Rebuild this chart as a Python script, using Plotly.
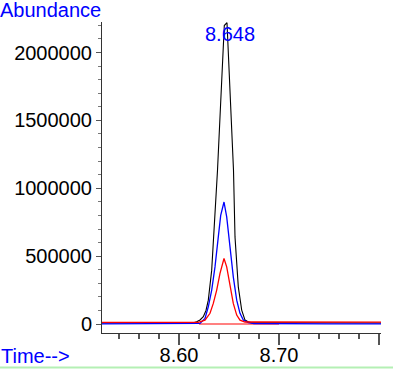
import plotly.graph_objects as go

# ---- data ----
black_t = [8.523, 8.560, 8.600, 8.6145, 8.6177, 8.6210, 8.6243, 8.6270, 8.6293, 8.6327,
           8.6385, 8.6453, 8.6480, 8.6545, 8.6560, 8.6593, 8.6627, 8.6660, 8.6700, 8.6727,
           8.700, 8.750, 8.802]
black_v = [8000, 8000, 8000, 9000, 17000, 30000, 54000, 100000, 176000, 397000,
           1132000, 2199000, 2220000, 1132000, 642000, 274000, 103000, 29000, 14000, 10000,
           9000, 8000, 8000]

blue_t = [8.523, 8.560, 8.600, 8.615, 8.621, 8.626, 8.6293, 8.6327, 8.636, 8.6393,
          8.6417, 8.645, 8.6477, 8.651, 8.6543, 8.6577, 8.661, 8.6643, 8.6693, 8.675,
          8.700, 8.750, 8.802]
blue_v = [1000, 1000, 1500, 2000, 5000, 42000, 127000, 250000, 421000, 642000,
          801000, 899000, 789000, 568000, 348000, 176000, 79000, 29000, 10000, 4000,
          2000, 1500, 1500]

red_t = [8.523, 8.560, 8.600, 8.6193, 8.626, 8.631, 8.6343, 8.6377, 8.641, 8.645,
         8.6477, 8.651, 8.6543, 8.6577, 8.661, 8.666, 8.700, 8.750, 8.802]
red_v = [12000, 12000, 12000, 12500, 29000, 79000, 152000, 250000, 373000, 483000,
         421000, 274000, 152000, 66000, 29000, 15000, 14000, 14000, 14000]

base_t = [8.620, 8.700]
base_v = [1000, 1000]

y_tickvals = [0, 500000, 1000000, 1500000, 2000000]
y_ticktext = ["0", "500000", "1000000", "1500000", "2000000"]
x_tickvals = [8.60, 8.70, 8.80]
x_ticktext = ["8.60", "8.70", ""]

peak_label = "8.648"
peak_time = 8.648

FONT = "Liberation Sans, Arial, Helvetica, sans-serif"

fig = go.Figure()
fig.add_trace(go.Scatter(x=base_t, y=base_v, mode="lines",
                         line=dict(color="#ff8080", width=2), hoverinfo="skip"))
fig.add_trace(go.Scatter(x=black_t, y=black_v, mode="lines",
                         line=dict(color="#000000", width=1.1)))
fig.add_trace(go.Scatter(x=blue_t, y=blue_v, mode="lines",
                         line=dict(color="#0000ff", width=1.3)))
fig.add_trace(go.Scatter(x=red_t, y=red_v, mode="lines",
                         line=dict(color="#ff0000", width=1.3)))

fig.update_layout(
    width=393, height=371,
    margin=dict(l=102, r=12, t=22, b=38, autoexpand=False),
    paper_bgcolor="white", plot_bgcolor="white",
    showlegend=False,
    font=dict(family=FONT, size=20, color="black"),
    xaxis=dict(
        range=[8.523, 8.802], automargin=False,
        showgrid=False, zeroline=False,
        showline=True, linecolor="#333333", linewidth=1,
        tickmode="array", tickvals=x_tickvals, ticktext=x_ticktext,
        ticks="outside", ticklen=11, tickcolor="#555555", tickwidth=1.5,
        ticklabelstandoff=-7,
        minor=dict(dtick=0.02, tick0=8.60, ticks="outside", ticklen=5,
                   tickcolor="#555555", tickwidth=1.5, showgrid=False),
        tickfont=dict(family=FONT, size=20, color="black"),
    ),
    yaxis=dict(
        range=[-66000, 2225000], automargin=False,
        showgrid=False, zeroline=False,
        showline=True, linecolor="#333333", linewidth=1,
        tickmode="array", tickvals=y_tickvals, ticktext=y_ticktext,
        ticks="outside", ticklen=5, tickcolor="#555555", tickwidth=1,
        minor=dict(dtick=100000, tick0=0, ticks="outside", ticklen=3,
                   tickcolor="#777777", tickwidth=1, showgrid=False),
        tickfont=dict(family=FONT, size=20, color="black"),
    ),
    annotations=[
        dict(text="Abundance", xref="paper", yref="paper",
             x=(-2 - 102) / 279, y=(333 - 10) / 311, xanchor="left", yanchor="middle",
             showarrow=False, font=dict(family=FONT, size=20, color="#0000ff")),
        dict(text="Time-->", xref="paper", yref="paper",
             x=(-1 - 102) / 279, y=(333 - 356) / 311, xanchor="left", yanchor="middle",
             showarrow=False, font=dict(family=FONT, size=20, color="#0000ff")),
        dict(text=peak_label, xref="x", yref="paper",
             x=peak_time, xshift=3, y=(333 - 34) / 311, xanchor="center", yanchor="middle",
             showarrow=False, font=dict(family=FONT, size=20, color="#0000ff")),
    ],
    shapes=[
        dict(type="line", xref="paper", yref="paper",
             x0=-1, x1=2, y0=(333 - 367.5) / 311, y1=(333 - 367.5) / 311,
             line=dict(color="#b4f0b4", width=2)),
    ],
)

POST = (
    "var de=document.documentElement, b=document.body;"
    "de.style.margin='0'; de.style.padding='0'; de.style.overflow='hidden';"
    "b.style.margin='0'; b.style.padding='0'; b.style.overflow='hidden';"
    "var g=document.querySelectorAll('.plotly-graph-div');"
    "for (var i=0;i<g.length;i++){g[i].style.position='fixed';"
    "g[i].style.left='0px'; g[i].style.top='0px';}"
)

fig.write_html("out.html", config={"displayModeBar": False}, post_script=POST)
